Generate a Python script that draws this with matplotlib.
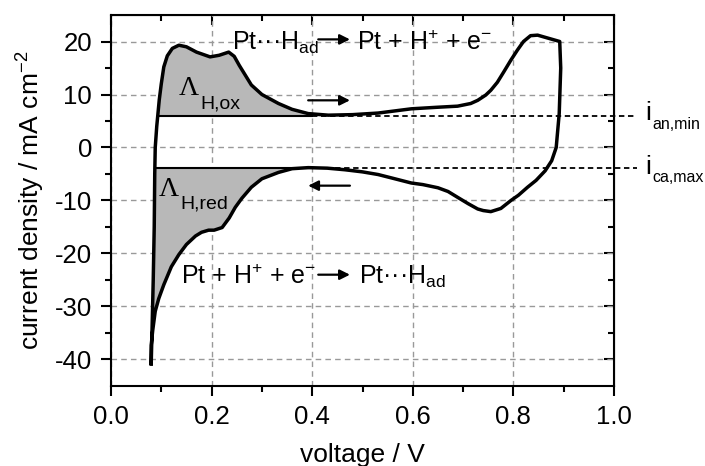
import numpy as np
import matplotlib
matplotlib.use("Agg")
import matplotlib.pyplot as plt

plt.rcParams["font.family"] = ["Liberation Sans", "DejaVu Sans"]
plt.rcParams["mathtext.fontset"] = "custom"
plt.rcParams["mathtext.rm"] = "Liberation Sans"
plt.rcParams["mathtext.it"] = "Liberation Sans:italic"
plt.rcParams["mathtext.bf"] = "Liberation Sans:bold"
plt.rcParams["axes.unicode_minus"] = False

# anodic scan (upper branch), voltage in V, current density in mA cm^-2
anodic_v = [0.080, 0.082, 0.084, 0.086, 0.087, 0.088, 0.091, 0.093, 0.096, 0.100,
            0.105, 0.112, 0.122, 0.135, 0.150, 0.170, 0.197, 0.215, 0.234, 0.245,
            0.255, 0.279, 0.300, 0.333, 0.360, 0.392, 0.432, 0.480, 0.531, 0.597,
            0.650, 0.689, 0.715, 0.729, 0.745, 0.755, 0.768, 0.781, 0.795, 0.808,
            0.820, 0.834, 0.848, 0.870, 0.892]
anodic_i = [-40.8, -33.0, -25.0, -15.0, -5.0, 0.0, 4.0, 6.0, 9.0, 12.0,
            15.2, 17.3, 18.7, 19.3, 19.0, 18.0, 17.1, 17.4, 18.0, 17.2,
            15.5, 11.8, 10.0, 8.3, 7.2, 6.4, 6.1, 6.2, 6.5, 7.3,
            7.6, 7.8, 8.3, 8.9, 9.9, 10.8, 12.3, 14.3, 16.5, 18.4,
            20.0, 21.1, 21.2, 20.6, 20.0]

# cathodic scan (lower branch)
cathodic_v = [0.892, 0.894, 0.891, 0.885, 0.876, 0.863, 0.845, 0.828, 0.810, 0.795,
              0.775, 0.755, 0.740, 0.729, 0.710, 0.689, 0.670, 0.650, 0.620, 0.597,
              0.560, 0.531, 0.500, 0.465, 0.430, 0.392, 0.360, 0.333, 0.300, 0.279,
              0.260, 0.247, 0.235, 0.221, 0.205, 0.194, 0.180, 0.168, 0.150, 0.135,
              0.120, 0.105, 0.095, 0.088, 0.083, 0.080, 0.080]
cathodic_i = [20.0, 15.0, 6.4, 0.0, -2.5, -4.4, -6.2, -7.5, -9.0, -10.0,
              -11.5, -12.1, -11.9, -11.6, -10.6, -9.4, -8.3, -7.6, -7.0, -6.7,
              -5.8, -5.1, -4.6, -4.2, -3.9, -3.8, -4.0, -4.7, -5.9, -7.5,
              -9.6, -11.3, -13.3, -15.1, -15.6, -15.6, -16.0, -16.7, -18.3, -20.2,
              -22.5, -25.9, -28.5, -30.9, -34.5, -37.3, -40.8]

i_an_min = 6.0
i_ca_max = -3.8
v_an_end = 0.40   # end of the H-desorption integration window
v_ca_end = 0.392  # end of the H-adsorption integration window

xticks = [0.0, 0.2, 0.4, 0.6, 0.8, 1.0]
xticks_minor = [0.1, 0.3, 0.5, 0.7, 0.9]
yticks = [-40, -30, -20, -10, 0, 10, 20]
yticks_minor = [-35, -25, -15, -5, 5, 15]


def arrow(ax, x0, x1, y):
    ax.annotate("", xy=(x1, y), xytext=(x0, y),
                arrowprops=dict(arrowstyle="-|>", color="black", lw=1.6,
                                mutation_scale=15, shrinkA=0, shrinkB=0))


def main():
    av = np.array(anodic_v)
    ai = np.array(anodic_i)
    cv = np.array(cathodic_v)
    ci = np.array(cathodic_i)

    fig = plt.figure(figsize=(7.05, 4.66), dpi=100)
    ax = fig.add_axes([0.1574, 0.1717, 0.7136, 0.7961])

    # shaded charge areas
    ax.fill_between(av, i_an_min, ai, where=(ai >= i_an_min) & (av <= 0.45),
                    interpolate=True, color="#b8b8b8", lw=0, zorder=1)
    low = cv <= v_ca_end
    up = ai <= i_ca_max
    poly_v = np.concatenate([cv[low], av[up], [av[up][-1] + 0.0005]])
    poly_i = np.concatenate([ci[low], ai[up], [i_ca_max]])
    ax.fill(poly_v, poly_i, color="#b8b8b8", lw=0, zorder=1)

    # baselines
    x_start_an = np.interp(i_an_min, ai[:12], av[:12])
    x_start_ca = np.interp(i_ca_max, ai[:8], av[:8])
    ax.plot([x_start_an, v_an_end], [i_an_min, i_an_min], color="black", lw=1.5, zorder=2)
    ax.plot([x_start_ca, v_ca_end], [i_ca_max, i_ca_max], color="black", lw=1.5, zorder=2)
    ax.plot([v_an_end, 1.046], [i_an_min, i_an_min], color="black", lw=1.3,
            ls=(0, (3, 2)), clip_on=False, zorder=2)
    ax.plot([v_ca_end, 1.046], [i_ca_max, i_ca_max], color="black", lw=1.3,
            ls=(0, (3, 2)), clip_on=False, zorder=2)

    # voltammogram
    ax.plot(np.concatenate([av, cv]), np.concatenate([ai, ci]),
            color="black", lw=2.5, solid_joinstyle="round", zorder=3)

    ax.set_xlim(0.0, 1.0)
    ax.set_ylim(-45, 25)
    ax.set_xticks(xticks)
    ax.set_xticks(xticks_minor, minor=True)
    ax.set_yticks(yticks)
    ax.set_yticks(yticks_minor, minor=True)
    ax.set_xticklabels(["%.1f" % t for t in xticks])
    ax.grid(True, which="major", color="#999999", ls=(0, (4, 3)), lw=1.0)
    ax.set_axisbelow(True)

    for s in ax.spines.values():
        s.set_linewidth(1.5)
    ax.tick_params(which="both", direction="out", width=1.5, labelsize=18.5)
    ax.tick_params(which="major", length=7.5, pad=6)
    ax.tick_params(which="minor", length=4.5)

    # inward ticks on top and right
    top = ax.secondary_xaxis("top")
    top.set_xticks(xticks)
    top.set_xticks(xticks_minor, minor=True)
    top.tick_params(which="both", direction="in", labeltop=False, width=1.5)
    top.tick_params(which="major", length=7.5)
    top.tick_params(which="minor", length=4.5)
    right = ax.secondary_yaxis("right")
    right.set_yticks(yticks)
    right.set_yticks(yticks_minor, minor=True)
    right.tick_params(which="both", direction="in", labelright=False, width=1.5)
    right.tick_params(which="major", length=7.5)
    right.tick_params(which="minor", length=4.5)

    ax.set_xlabel("voltage / V", fontsize=19, labelpad=10)
    ax.set_ylabel("current density / mA cm$^{-2}$", fontsize=19, labelpad=6)

    # reaction labels
    ax.text(0.241, 18.4, "Pt\u00b7\u00b7\u00b7H$_{\\mathrm{ad}}$", fontsize=18, va="baseline")
    arrow(ax, 0.412, 0.475, 20.4)
    ax.text(0.490, 18.4, "Pt + H$^{+}$ + e$^{-}$", fontsize=18, va="baseline")

    ax.text(0.139, -25.8, "Pt + H$^{+}$ + e$^{-}$", fontsize=18, va="baseline")
    arrow(ax, 0.412, 0.475, -24.0)
    ax.text(0.493, -25.8, "Pt\u00b7\u00b7\u00b7H$_{\\mathrm{ad}}$", fontsize=18, va="baseline")

    # scan direction arrows
    arrow(ax, 0.392, 0.475, 8.9)
    arrow(ax, 0.475, 0.392, -7.2)

    # charge labels
    ax.text(0.135, 10.0, "\u039b", family="Liberation Serif", fontsize=20, va="baseline")
    ax.text(0.178, 7.4, "H,ox", fontsize=14, va="baseline")
    ax.text(0.095, -9.1, "\u039b", family="Liberation Serif", fontsize=20, va="baseline")
    ax.text(0.138, -11.6, "H,red", fontsize=14, va="baseline")

    # baseline labels outside the axes
    ax.text(1.062, 5.1, "i", fontsize=19, va="baseline", clip_on=False)
    ax.text(1.076, 3.5, "an,min", fontsize=11.5, va="baseline", clip_on=False)
    ax.text(1.062, -5.0, "i", fontsize=19, va="baseline", clip_on=False)
    ax.text(1.076, -6.6, "ca,max", fontsize=11.5, va="baseline", clip_on=False)

    fig.savefig("out.png", dpi=100)


if __name__ == "__main__":
    main()
